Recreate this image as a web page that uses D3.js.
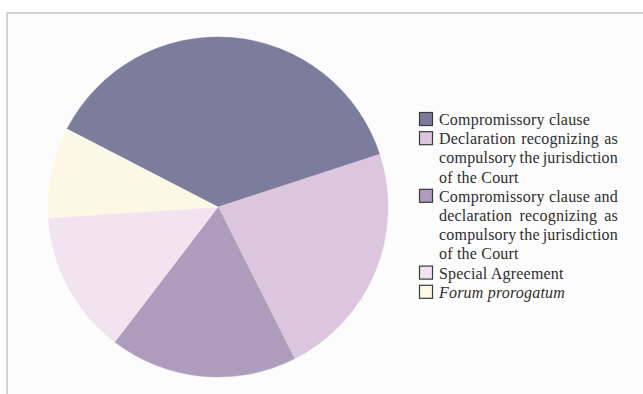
<!DOCTYPE html>
<html>
<head>
<meta charset="utf-8">
<script src="https://cdn.jsdelivr.net/npm/d3@7"></script>
<style>
  html, body { margin: 0; padding: 0; background: #ffffff; }
  svg { display: block; }
  .legend text { font-family: "Liberation Serif", "DejaVu Serif", serif; font-size: 16px; fill: #2e2e2e; letter-spacing: 0.2px; }
</style>
</head>
<body>
<svg id="chart" width="643" height="394"></svg>
<script>
// Bases of jurisdiction, share of cases (%)
const categories = [
  "Compromissory clause",
  "Declaration recognizing as compulsory the jurisdiction of the Court",
  "Compromissory clause and declaration recognizing as compulsory the jurisdiction of the Court",
  "Special Agreement",
  "Forum prorogatum"
];
const shares = [37.4, 22.6, 17.8, 13.6, 8.6];
// Legend text broken into lines; justified lines are flagged
const legendLines = [
  [{t: "Compromissory clause", j: false}],
  [{t: "Declaration recognizing as", j: true},
   {t: "compulsory the jurisdiction", j: true},
   {t: "of the Court", j: false}],
  [{t: "Compromissory clause and", j: true},
   {t: "declaration recognizing as", j: true},
   {t: "compulsory the jurisdiction", j: true},
   {t: "of the Court", j: false}],
  [{t: "Special Agreement", j: false}],
  [{t: "Forum prorogatum", j: false, italic: true}]
];
const colors = ["#7b7c9c", "#dcc6de", "#ad9cbc", "#f1e4f0", "#fdf8e5"];

const svg = d3.select("#chart");

// panel frame
svg.append("rect")
  .attr("x", 7).attr("y", 13).attr("width", 660).attr("height", 400)
  .attr("fill", "#fcfcfd").attr("stroke", "#d3cfcb").attr("stroke-width", 2);

const cx = 218, cy = 207, r = 170;
const start = -62.7 * Math.PI / 180;

const pie = d3.pie().sort(null).value(d => d)
  .startAngle(start).endAngle(start + 2 * Math.PI);
const arc = d3.arc().innerRadius(0).outerRadius(r);

const defs = svg.append("defs");
defs.append("filter").attr("id", "soft")
  .append("feGaussianBlur").attr("stdDeviation", 0.5);

svg.append("g")
  .attr("transform", `translate(${cx},${cy})`)
  .attr("filter", "url(#soft)")
  .selectAll("path")
  .data(pie(shares))
  .join("path")
  .attr("d", arc)
  .attr("fill", (d, i) => colors[i])
  .attr("stroke", (d, i) => colors[i])
  .attr("stroke-width", 0.5);

// legend
const lx = 419, tx = 439, tRight = 618, base0 = 125, lh = 19.2;
const legend = svg.append("g").attr("class", "legend");

let line = 0;
legendLines.forEach((lines, i) => {
  const yb = base0 + line * lh;
  legend.append("rect")
    .attr("x", lx + 0.5).attr("y", yb - 12.5)
    .attr("width", 13).attr("height", 13)
    .attr("fill", colors[i]).attr("stroke", "#3a3a3a").attr("stroke-width", 1.2);
  lines.forEach(l => {
    const y = base0 + line * lh;
    if (l.j) {
      const words = l.t.split(" ");
      const nodes = words.map(w => legend.append("text")
        .attr("y", y).text(w));
      const widths = nodes.map(n => n.node().getComputedTextLength());
      const total = d3.sum(widths);
      const gap = (tRight - tx - total) / (words.length - 1);
      let x = tx;
      nodes.forEach((n, k) => { n.attr("x", x); x += widths[k] + gap; });
    } else {
      legend.append("text")
        .attr("x", tx).attr("y", y)
        .attr("font-style", l.italic ? "italic" : null)
        .text(l.t);
    }
    line++;
  });
});
</script>
</body>
</html>
